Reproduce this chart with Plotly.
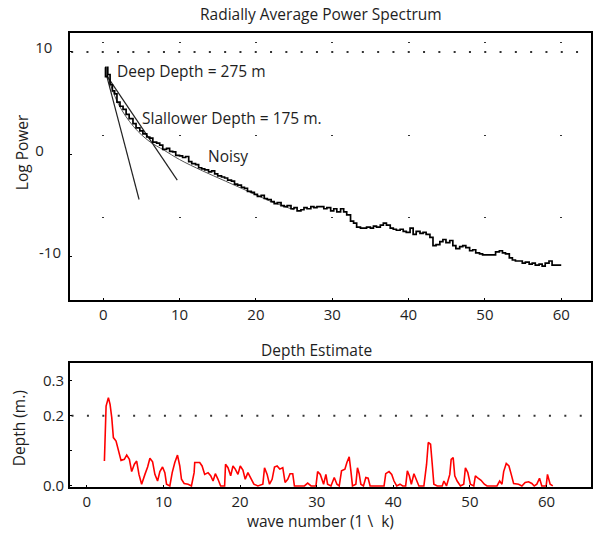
import plotly.graph_objects as go

# ---------------- data ----------------
# Radially averaged power spectrum (noisy curve)
spec_k = [0.25, 0.3, 0.55, 0.6, 0.9, 1.2, 1.5, 1.8, 2.2, 2.6, 3.0, 3.4, 3.9, 4.3, 4.8, 5.2, 5.7, 6.1,
          6.5, 7.0, 7.4, 7.8, 8.3, 8.7, 9.1, 9.5, 10.0, 10.4, 10.8, 11.2, 11.6, 12.1, 12.5, 12.9,
          13.3, 13.8, 14.2, 14.6, 15.0, 15.5, 15.9, 16.3, 16.8, 17.2, 17.6, 18.1, 18.5, 18.9,
          19.4, 19.8, 20.2, 20.7, 21.1, 21.5, 22.0, 22.4, 22.8, 23.3, 23.7, 24.1, 24.6, 25.0,
          25.4, 25.9, 26.3, 26.7, 27.2, 27.6, 28.0, 28.5, 28.9, 29.3, 29.8, 30.2, 30.6, 31.1,
          31.5, 31.9, 32.4, 32.8, 33.2, 33.7, 34.1, 34.5, 35.0, 35.4, 35.8, 36.3, 36.7, 37.1,
          37.6, 38.0, 38.4, 38.9, 39.3, 39.7, 40.2, 40.6, 41.0, 41.5, 41.9, 42.3, 42.8, 43.2,
          43.6, 44.1, 44.5, 44.9, 45.4, 45.8, 46.2, 46.7, 47.1, 47.5, 48.0, 48.4, 48.8, 49.3,
          49.7, 50.1, 50.6, 51.0, 51.4, 51.9, 52.3, 52.7, 53.2, 53.6, 54.0, 54.5, 54.9, 55.3,
          55.8, 56.2, 56.6, 57.1, 57.5, 57.9, 58.4, 58.8, 59.2, 59.6, 60.0]
spec_logp = [8.5, 7.6, 8.5, 7.8, 6.8, 6.2, 5.9, 5.1, 4.7, 4.4, 3.9, 3.5, 3.0, 2.6, 2.3, 2.0, 1.7, 1.6,
             1.2, 1.1, 0.9, 0.5, 0.6, 0.3, 0.25, -0.1, -0.15, -0.3, -0.2, -0.7, -0.9, -1.0, -1.3, -1.4,
             -1.5, -1.7, -1.6, -1.9, -2.1, -2.2, -2.3, -2.5, -2.6, -2.9, -3.0, -3.2, -3.3, -3.6,
             -3.7, -3.9, -4.1, -4.0, -4.3, -4.4, -4.6, -4.8, -4.7, -5.0, -5.1, -5.0, -5.3, -5.2,
             -5.5, -5.4, -5.2, -5.3, -5.1, -5.2, -5.1, -5.1, -5.3, -5.2, -5.5, -5.3, -5.6, -5.3,
             -5.6, -5.9, -6.5, -6.7, -7.1, -7.2, -7.2, -7.1, -7.2, -7.0, -7.1, -6.9, -6.7, -6.9,
             -7.2, -7.3, -7.4, -7.3, -7.5, -7.6, -7.2, -7.8, -7.5, -7.7, -7.6, -7.8, -8.1, -8.9,
             -8.8, -8.5, -8.3, -8.6, -8.4, -8.9, -9.2, -9.0, -8.9, -9.1, -9.4, -9.3, -9.6, -9.7,
             -9.8, -9.8, -9.8, -9.8, -9.5, -9.4, -9.6, -9.7, -10.1, -10.3, -10.4, -10.4, -10.6, -10.5,
             -10.7, -10.6, -10.8, -10.7, -10.9, -10.6, -10.4, -10.8, -10.8, -10.8, -10.8]

# Smooth fitted curve lying under the noisy one
fit_k = [0.6, 2.0, 4.0, 6.0, 8.0, 10.0, 13.0, 16.0, 19.0, 22.0, 25.0]
fit_logp = [7.6, 4.9, 2.7, 1.3, 0.4, -0.5, -1.6, -2.6, -3.6, -4.6, -5.4]

# Straight-line depth fits
deep_k = [0.45, 4.7]
deep_logp = [7.7, -4.4]
shallow_k = [0.55, 9.7]
shallow_logp = [7.6, -2.5]

# Depth estimate (red)
depth_k = [2.29, 2.51, 2.81, 3.03, 3.25, 3.46, 3.81, 4.11, 4.46, 4.89, 5.2, 5.55, 5.85, 6.2, 6.5, 6.8,
           7.15, 7.58, 7.93, 8.23, 8.58, 8.88, 9.23, 9.53, 9.88, 10.18, 10.4, 10.83, 11.14, 11.48,
           11.83, 12.13, 12.35, 12.7, 13.22, 13.65, 14.0, 14.08, 14.73, 15.04, 15.38, 15.82, 16.16,
           16.47, 16.77, 17.12, 17.46, 17.98, 18.1, 18.42, 18.77, 19.07, 19.37, 19.72, 20.02, 20.37,
           20.67, 21.02, 21.37, 21.8, 22.32, 22.97, 23.19, 23.53, 23.84, 24.18, 24.49, 24.83, 25.18,
           25.57, 25.87, 26.22, 26.52, 26.87, 27.09, 28.4, 28.82, 29.26, 29.9, 30.12, 30.47, 30.9,
           31.2, 31.42, 31.86, 32.29, 32.64, 32.94, 33.24, 33.68, 33.94, 34.24, 34.46, 34.67, 35.11,
           35.32, 35.54, 35.76, 36.1, 36.41, 36.71, 36.97, 38.79, 39.01, 39.44, 39.79, 40.09, 40.44,
           40.87, 41.22, 41.61, 41.83, 42.09, 42.35, 42.69, 43.04, 43.34, 43.99, 44.34, 44.56, 44.86,
           45.08, 45.29, 45.73, 46.38, 46.6, 46.94, 47.37, 47.55, 47.81, 48.02, 48.33, 48.76, 49.19,
           49.41, 49.72, 50.06, 50.5, 50.71, 51.06, 51.45, 51.88, 52.23, 53.53, 53.88, 54.18, 54.4,
           54.74, 55.09, 55.39, 55.7, 56.35, 56.78, 57.21, 57.65, 58.08, 58.39, 58.73, 59.08, 59.38,
           59.95, 60.12, 60.47, 60.81]
depth_m = [0.071, 0.228, 0.252, 0.233, 0.195, 0.138, 0.128, 0.105, 0.073, 0.076, 0.088, 0.076, 0.041,
           0.062, 0.071, 0.033, 0.005, 0.033, 0.054, 0.079, 0.069, 0.033, 0.014, 0.041, 0.054, 0.038,
           0.005, 0.0, 0.038, 0.067, 0.088, 0.057, 0.019, 0.007, 0.005, 0.0, 0.038, 0.067, 0.067,
           0.057, 0.033, 0.038, 0.029, 0.014, 0.035, 0.019, 0.0, 0.0, 0.062, 0.052, 0.029, 0.057,
           0.048, 0.033, 0.057, 0.045, 0.019, 0.038, 0.024, 0.005, 0.0, 0.005, 0.052, 0.033, 0.005,
           0.019, 0.054, 0.057, 0.048, 0.052, 0.01, 0.019, 0.035, 0.035, 0.0, 0.0, 0.008, 0.0, 0.0,
           0.041, 0.033, 0.005, 0.033, 0.005, 0.0, 0.024, 0.005, 0.0, 0.043, 0.048, 0.067, 0.083,
           0.043, 0.0, 0.005, 0.052, 0.035, 0.005, 0.0, 0.024, 0.022, 0.0, 0.0, 0.035, 0.041, 0.033,
           0.014, 0.0, 0.005, 0.0, 0.0, 0.043, 0.029, 0.005, 0.035, 0.014, 0.0, 0.0, 0.062, 0.124,
           0.119, 0.062, 0.005, 0.0, 0.0, 0.014, 0.0, 0.033, 0.076, 0.081, 0.029, 0.014, 0.0, 0.005,
           0.052, 0.038, 0.005, 0.0, 0.029, 0.022, 0.016, 0.005, 0.0, 0.0, 0.014, 0.005, 0.041,
           0.064, 0.057, 0.033, 0.007, 0.005, 0.0, 0.01, 0.012, 0.007, 0.0, 0.005, 0.022, 0.0,
           0.0, 0.033, 0.005, 0.0]

top_xticks = [0, 10, 20, 30, 40, 50, 60]
top_yticks = [-10, 0, 10]
top_yticktext = ["-10", "0\u2007\u2007", "10\u2007"]
bot_xticks = [0, 10, 20, 30, 40, 50, 60]
bot_yticks = [0.0, 0.1, 0.2, 0.3]
bot_yticktext = ["0.0", "", "0.2", "0.3"]

FONT = "Open Sans"
TXT = "#1e1e1e"

fig = go.Figure()

fig.add_trace(go.Scatter(x=fit_k, y=fit_logp, mode="lines", line=dict(color="#555555", width=1),
                         line_shape="spline", xaxis="x", yaxis="y", showlegend=False, hoverinfo="skip"))
fig.add_trace(go.Scatter(x=deep_k, y=deep_logp, mode="lines", line=dict(color="#222222", width=1.2),
                         xaxis="x", yaxis="y", showlegend=False))
fig.add_trace(go.Scatter(x=shallow_k, y=shallow_logp, mode="lines", line=dict(color="#222222", width=1.2),
                         xaxis="x", yaxis="y", showlegend=False))
fig.add_trace(go.Scatter(x=spec_k, y=spec_logp, mode="lines", line=dict(color="black", width=1.7),
                         line_shape="hv", xaxis="x", yaxis="y", showlegend=False))
fig.add_trace(go.Scatter(x=depth_k, y=depth_m, mode="lines", line=dict(color="#ff0000", width=1.6),
                         xaxis="x2", yaxis="y2", showlegend=False))

axis_common = dict(showline=True, linecolor="black", linewidth=2, mirror=True, ticks="inside",
                   ticklen=2, tickcolor="black", zeroline=False,
                   tickfont=dict(family=FONT, size=15, color=TXT))

fig.update_layout(
    width=595, height=533,
    margin=dict(l=70, r=2, t=33, b=46),
    paper_bgcolor="white", plot_bgcolor="white",
    font=dict(family=FONT, color=TXT),
    xaxis=dict(domain=[0, 1], anchor="y", range=[-4.35, 63.9], tickvals=top_xticks,
               showgrid=True, griddash="0px,9px,1px,92px,1px,81px,1px,200px", gridcolor="#333333",
               gridwidth=1.5, **axis_common),
    yaxis=dict(domain=[0.412, 1], anchor="x", range=[-14.2, 11.85], tickvals=top_yticks,
               ticktext=top_yticktext, showgrid=False, ticklabelshift=-4, ticklabelstandoff=4,
               **axis_common),
    xaxis2=dict(domain=[0, 1], anchor="y2", range=[-2.2, 65.8], tickvals=bot_xticks,
                showgrid=False, **axis_common),
    yaxis2=dict(domain=[0, 0.2725], anchor="x2", range=[-0.003, 0.350], tickvals=bot_yticks,
                ticktext=bot_yticktext, showgrid=False, ticklabelstandoff=1, **axis_common),
    shapes=[
        dict(type="line", xref="x", yref="y", x0=-4.2, x1=63.9, y0=10, y1=10,
             line=dict(color="#333333", width=2, dash="2px,13.3px"), layer="below"),
        dict(type="line", xref="x2", yref="y2", x0=-2.0, x1=65.8, y0=0.2, y1=0.2,
             line=dict(color="#333333", width=2, dash="2px,13.4px"), layer="below"),
    ],
)

# annotations: titles/axis titles placed by pixel position (converted to paper fractions)
W, H = 595, 533
L, R, T, B = 70, 2, 33, 46
pw, ph = W - L - R, H - T - B

def px_ann(text, x, y, angle=0, size=15.5):
    return dict(text=text, xref="paper", yref="paper", x=(x - L) / pw, y=(H - B - y) / ph,
                xanchor="center", yanchor="middle", textangle=angle, showarrow=False,
                font=dict(size=size, family=FONT, color=TXT))

def data_ann(text, x, y, size=15.5):
    return dict(text=text, xref="x", yref="y", x=x, y=y, xanchor="left", yanchor="middle",
                showarrow=False, font=dict(size=size, family=FONT, color=TXT))

fig.update_layout(annotations=[
    px_ann("Radially Average Power Spectrum", 322, 14),
    px_ann("Depth Estimate", 317, 350),
    px_ann("wave number (1 \\\u00a0 k)", 321, 521),
    px_ann("Log Power", 22, 152, angle=-90),
    px_ann("Depth (m.)", 19, 428, angle=-90),
    data_ann("Deep Depth = 275 m", 1.6, 8.1),
    data_ann("Slallower Depth = 175 m.", 4.8, 3.6),
    data_ann("Noisy", 13.5, -0.2),
])

fig.write_html("out.html", config={"displayModeBar": False},
               post_script="document.body.style.margin='0px';document.body.style.overflow='hidden';")
